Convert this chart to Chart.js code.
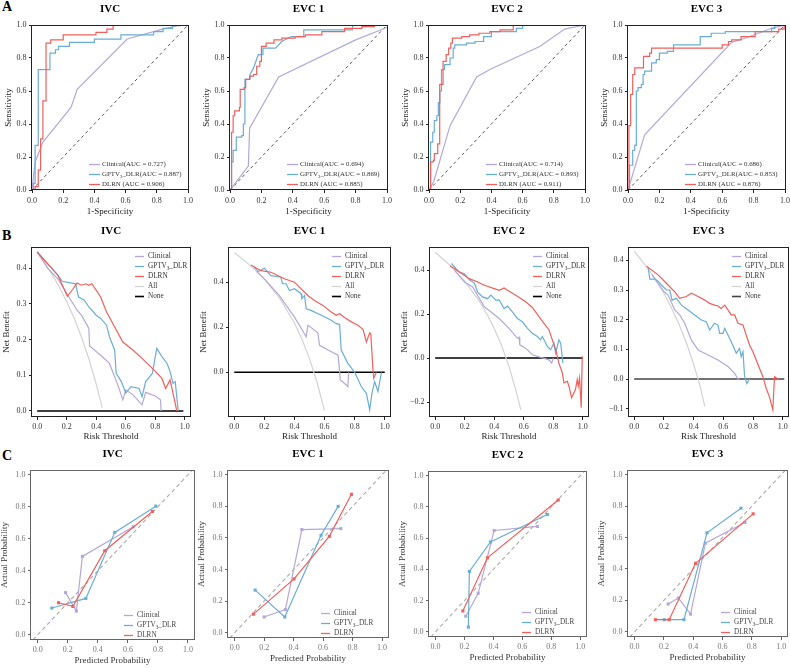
<!DOCTYPE html>
<html>
<head>
<meta charset="utf-8">
<script src="https://cdn.jsdelivr.net/npm/chart.js@4.4.0/dist/chart.umd.min.js"></script>
<style>
  body { margin: 0; background: #fff; }
  #fig { position: relative; width: 790px; height: 668px; overflow: hidden; background: #fff; }
  #fig canvas { position: absolute; }
  .tag { position: absolute; font: bold 14px 'Liberation Serif', serif; line-height: 14px; color: #000; }
</style>
</head>
<body>
<div id="fig">
  <div class="tag" style="left:2px;top:0px">A</div>
  <div class="tag" style="left:2px;top:229px">B</div>
  <div class="tag" style="left:2px;top:449px">C</div>
</div>
<script>
// ---- data ----
const panelTitles = ['IVC', 'EVC 1', 'EVC 2', 'EVC 3'];
const aucClinical = ['0.727', '0.694', '0.714', '0.686'];
const aucGptv = ['0.887', '0.869', '0.893', '0.853'];
const aucDlrn = ['0.906', '0.885', '0.911', '0.876'];

const ticks01 = [0, 0.2, 0.4, 0.6, 0.8, 1];
const dcaYTicks = [[0, 0.1, 0.2, 0.3, 0.4], [0, 0.2, 0.4], [-0.2, 0, 0.2, 0.4], [-0.1, 0, 0.1, 0.2, 0.3, 0.4]];
const dcaYRange = [[-0.017, 0.459], [-0.198, 0.556], [-0.268, 0.505], [-0.128, 0.445]];

// ROC curves [1-specificity, sensitivity]
const rocIVC_clin = [[0,0],[0.02,0.17],[0.07,0.29],[0.25,0.5],[0.29,0.61],[0.61,0.915],[0.82,0.97],[0.93,0.995],[1,1]];
const rocIVC_gptv = [[0,0],[0.01,0],[0.01,0.04],[0.02,0.04],[0.02,0.27],[0.04,0.27],[0.04,0.73],[0.115,0.73],[0.115,0.83],[0.15,0.83],[0.15,0.85],[0.17,0.85],[0.17,0.87],[0.24,0.87],[0.24,0.895],[0.4,0.895],[0.4,0.915],[0.57,0.915],[0.57,0.94],[0.78,0.94],[0.78,0.96],[0.84,0.96],[0.84,0.98],[0.9,0.98],[0.9,1],[1,1]];
const rocIVC_dlrn = [[0,0],[0.02,0],[0.02,0.02],[0.04,0.02],[0.04,0.12],[0.055,0.12],[0.055,0.31],[0.07,0.31],[0.07,0.54],[0.09,0.54],[0.09,0.89],[0.12,0.89],[0.12,0.91],[0.2,0.91],[0.2,0.94],[0.41,0.94],[0.41,0.955],[0.48,0.955],[0.48,0.975],[0.52,0.975],[0.52,1],[1,1]];

const rocE1_clin = [[0,0],[0.117,0.145],[0.125,0.375],[0.31,0.685],[0.8,0.91],[1,0.985]];
const rocE1_gptv = [[0,0],[0.01,0],[0.01,0.17],[0.02,0.17],[0.02,0.24],[0.04,0.24],[0.04,0.32],[0.075,0.32],[0.075,0.33],[0.085,0.33],[0.085,0.4],[0.095,0.4],[0.095,0.67],[0.128,0.67],[0.128,0.7],[0.15,0.74],[0.18,0.82],[0.21,0.82],[0.21,0.86],[0.29,0.86],[0.33,0.9],[0.39,0.93],[0.47,0.93],[0.47,0.97],[0.78,0.97],[0.78,1],[1,1]];
const rocE1_dlrn = [[0,0],[0.01,0],[0.01,0.35],[0.02,0.35],[0.02,0.45],[0.03,0.45],[0.03,0.48],[0.06,0.48],[0.06,0.5],[0.065,0.5],[0.065,0.61],[0.09,0.61],[0.09,0.62],[0.1,0.62],[0.1,0.67],[0.125,0.67],[0.125,0.69],[0.15,0.69],[0.15,0.7],[0.17,0.7],[0.17,0.75],[0.19,0.75],[0.19,0.78],[0.2,0.78],[0.2,0.87],[0.23,0.87],[0.23,0.89],[0.28,0.89],[0.28,0.91],[0.33,0.91],[0.33,0.92],[0.415,0.92],[0.415,0.93],[0.48,0.93],[0.48,0.94],[0.585,0.94],[0.585,0.96],[0.73,0.96],[0.73,0.98],[0.84,0.98],[0.84,0.99],[0.92,0.99],[0.92,1],[1,1]];

const rocE2_clin = [[0,0],[0.03,0.05],[0.135,0.39],[0.305,0.685],[0.39,0.73],[0.71,0.87],[0.87,0.975],[1,1]];
const rocE2_gptv = [[0,0],[0.01,0],[0.01,0.29],[0.024,0.29],[0.024,0.35],[0.034,0.35],[0.034,0.42],[0.05,0.42],[0.05,0.45],[0.06,0.45],[0.06,0.53],[0.07,0.53],[0.07,0.6],[0.08,0.6],[0.08,0.73],[0.1,0.73],[0.1,0.76],[0.135,0.76],[0.135,0.8],[0.155,0.8],[0.155,0.86],[0.165,0.86],[0.165,0.88],[0.24,0.88],[0.24,0.89],[0.295,0.89],[0.295,0.9],[0.35,0.9],[0.35,0.93],[0.4,0.93],[0.4,0.96],[0.56,0.96],[0.56,0.98],[0.6,0.98],[0.6,1],[1,1]];
const rocE2_dlrn = [[0,0],[0.01,0],[0.01,0.17],[0.028,0.17],[0.028,0.18],[0.034,0.18],[0.034,0.22],[0.056,0.22],[0.056,0.28],[0.066,0.28],[0.066,0.33],[0.07,0.33],[0.07,0.64],[0.09,0.64],[0.09,0.78],[0.11,0.78],[0.11,0.82],[0.126,0.82],[0.126,0.86],[0.14,0.86],[0.14,0.89],[0.15,0.89],[0.15,0.92],[0.21,0.92],[0.21,0.93],[0.26,0.93],[0.26,0.94],[0.32,0.94],[0.32,0.95],[0.39,0.95],[0.39,0.96],[0.455,0.96],[0.455,0.97],[0.54,0.97],[0.54,1],[1,1]];

const rocE3_clin = [[0,0],[0.106,0.335],[0.66,0.895],[0.745,0.92],[0.915,0.98],[1,1]];
const rocE3_gptv = [[0,0],[0.01,0],[0.01,0.15],[0.03,0.15],[0.03,0.24],[0.043,0.24],[0.043,0.27],[0.053,0.27],[0.053,0.6],[0.064,0.6],[0.064,0.62],[0.085,0.62],[0.085,0.64],[0.096,0.64],[0.096,0.7],[0.106,0.7],[0.106,0.72],[0.15,0.72],[0.15,0.77],[0.18,0.77],[0.18,0.79],[0.2,0.79],[0.2,0.83],[0.25,0.83],[0.25,0.84],[0.29,0.84],[0.29,0.88],[0.46,0.88],[0.46,0.93],[0.53,0.93],[0.53,0.95],[0.62,0.95],[0.62,0.96],[0.915,0.96],[0.915,0.98],[0.935,0.98],[0.935,1],[1,1]];
const rocE3_dlrn = [[0,0],[0.006,0],[0.006,0.39],[0.017,0.39],[0.017,0.58],[0.03,0.58],[0.03,0.7],[0.043,0.7],[0.043,0.74],[0.096,0.74],[0.096,0.76],[0.1,0.76],[0.1,0.81],[0.138,0.81],[0.138,0.83],[0.15,0.83],[0.15,0.86],[0.6,0.86],[0.6,0.88],[0.64,0.88],[0.64,0.9],[0.66,0.9],[0.66,0.91],[0.72,0.91],[0.72,0.93],[0.81,0.93],[0.81,0.96],[0.96,0.96],[0.96,0.975],[0.995,0.975],[0.995,1],[1,1]];

const rocDiagonal = [[0,0],[1,1]];

// decision curves [risk threshold, net benefit]
const dcaIVC_all = [[0,0.445],[0.05,0.416],[0.1,0.383],[0.15,0.347],[0.2,0.306],[0.25,0.26],[0.3,0.207],[0.35,0.146],[0.4,0.075],[0.44,0.009]];
const dcaIVC_clin = [[0,0.445],[0.07,0.4],[0.14,0.37],[0.205,0.326],[0.27,0.282],[0.3,0.268],[0.35,0.231],[0.355,0.182],[0.43,0.156],[0.49,0.133],[0.55,0.068],[0.58,0.031],[0.6,0.059],[0.65,0.045],[0.71,0.017],[0.735,0.052],[0.8,0.042],[0.835,0.031],[0.84,0]];
const dcaIVC_gptv = [[0,0.445],[0.14,0.38],[0.17,0.363],[0.26,0.356],[0.28,0.319],[0.32,0.31],[0.35,0.291],[0.4,0.268],[0.43,0.259],[0.47,0.24],[0.49,0.207],[0.525,0.17],[0.535,0.105],[0.57,0.082],[0.6,0.05],[0.635,0.068],[0.69,0.063],[0.71,0.04],[0.735,0.082],[0.78,0.105],[0.81,0.175],[0.845,0.152],[0.88,0.133],[0.9,0.11],[0.92,0.077],[0.935,0.082],[0.955,0]];
const dcaIVC_dlrn = [[0,0.445],[0.14,0.38],[0.205,0.321],[0.24,0.34],[0.27,0.358],[0.3,0.352],[0.33,0.356],[0.35,0.352],[0.37,0.356],[0.43,0.319],[0.47,0.277],[0.525,0.235],[0.58,0.193],[0.65,0.17],[0.71,0.147],[0.78,0.119],[0.845,0.091],[0.87,0.063],[0.9,0.087],[0.935,0.021],[0.945,0]];
const dcaIVC_none = [[0,0],[0.99,0]];

const dcaE1_all = [[0,0.532],[0.1,0.478],[0.2,0.414],[0.3,0.33],[0.4,0.219],[0.45,0.147],[0.5,0.06],[0.55,-0.044],[0.6,-0.17]];
const dcaE1_clin = [[0.15,0.448],[0.2,0.415],[0.3,0.34],[0.4,0.245],[0.45,0.19],[0.478,0.157],[0.49,0.209],[0.52,0.194],[0.555,0.175],[0.567,0.12],[0.62,0.1],[0.69,0.076],[0.705,-0.034],[0.745,-0.056],[0.755,-0.063],[0.76,0]];
const dcaE1_gptv = [[0.13,0.468],[0.16,0.447],[0.2,0.462],[0.244,0.429],[0.31,0.422],[0.32,0.393],[0.344,0.393],[0.367,0.363],[0.4,0.371],[0.444,0.349],[0.449,0.326],[0.467,0.341],[0.478,0.282],[0.51,0.275],[0.578,0.253],[0.644,0.231],[0.678,0.216],[0.7,0.213],[0.711,0.099],[0.755,0.04],[0.8,0],[0.844,-0.063],[0.878,-0.093],[0.9,-0.166],[0.915,-0.093],[0.933,-0.041],[0.955,-0.085],[0.978,0]];
const dcaE1_dlrn = [[0.11,0.476],[0.178,0.451],[0.244,0.444],[0.333,0.415],[0.4,0.4],[0.433,0.378],[0.489,0.341],[0.533,0.319],[0.589,0.297],[0.644,0.268],[0.678,0.253],[0.7,0.26],[0.733,0.243],[0.778,0.224],[0.822,0.209],[0.856,0.19],[0.878,0.135],[0.9,0.175],[0.907,0.172],[0.922,0.01],[0.927,-0.026],[0.944,0]];
const dcaE1_none = [[0,0],[1,0]];

const dcaE2_all = [[0,0.481],[0.1,0.422],[0.2,0.35],[0.3,0.258],[0.35,0.2],[0.4,0.134],[0.45,0.057],[0.5,-0.038],[0.55,-0.155],[0.58,-0.236]];
const dcaE2_clin = [[0.13,0.4],[0.2,0.345],[0.254,0.323],[0.333,0.233],[0.434,0.18],[0.5,0.135],[0.557,0.09],[0.568,0.095],[0.573,0.06],[0.613,0.045],[0.658,0.015],[0.77,-0.008],[0.789,-0.023],[0.8,0]];
const dcaE2_gptv = [[0.11,0.43],[0.142,0.406],[0.164,0.391],[0.198,0.383],[0.231,0.356],[0.265,0.341],[0.288,0.3],[0.321,0.278],[0.355,0.27],[0.377,0.286],[0.411,0.263],[0.434,0.263],[0.467,0.225],[0.49,0.236],[0.523,0.21],[0.557,0.18],[0.591,0.165],[0.625,0.135],[0.658,0.113],[0.692,0.098],[0.714,0.083],[0.726,0.098],[0.76,0.053],[0.782,0.038],[0.804,0.068],[0.816,0.023],[0.838,0.083],[0.85,0.068],[0.865,-0.023]];
const dcaE2_dlrn = [[0.1,0.42],[0.164,0.391],[0.231,0.361],[0.288,0.346],[0.333,0.331],[0.4,0.316],[0.434,0.308],[0.467,0.319],[0.49,0.308],[0.546,0.286],[0.613,0.256],[0.658,0.23],[0.703,0.188],[0.737,0.158],[0.771,0.128],[0.793,0.083],[0.816,0.038],[0.838,-0.023],[0.861,-0.068],[0.872,-0.113],[0.894,-0.105],[0.906,-0.128],[0.924,-0.18],[0.95,-0.143],[0.962,-0.098],[0.969,-0.128],[0.978,-0.09],[0.989,-0.226],[0.996,0.008]];
const dcaE2_none = [[0,0],[1,0]];

const dcaE3_all = [[0,0.431],[0.1,0.367],[0.2,0.289],[0.25,0.24],[0.3,0.187],[0.35,0.124],[0.4,0.05],[0.44,-0.017],[0.475,-0.092]];
const dcaE3_clin = [[0.12,0.352],[0.2,0.295],[0.228,0.283],[0.273,0.233],[0.306,0.216],[0.34,0.188],[0.385,0.131],[0.43,0.098],[0.474,0.087],[0.564,0.064],[0.631,0.042],[0.676,0.019],[0.698,0],[0.709,-0.003]];
const dcaE3_gptv = [[0.094,0.375],[0.105,0.337],[0.139,0.337],[0.161,0.33],[0.183,0.317],[0.217,0.3],[0.239,0.3],[0.255,0.266],[0.284,0.272],[0.318,0.249],[0.362,0.233],[0.407,0.216],[0.452,0.199],[0.485,0.193],[0.508,0.165],[0.541,0.188],[0.564,0.182],[0.575,0.154],[0.597,0.154],[0.609,0.171],[0.653,0.126],[0.687,0.087],[0.709,0.103],[0.72,0.075],[0.732,0.092],[0.743,0.008],[0.758,-0.015],[0.776,0]];
const dcaE3_dlrn = [[0.083,0.38],[0.161,0.351],[0.228,0.317],[0.273,0.294],[0.306,0.272],[0.351,0.278],[0.385,0.289],[0.43,0.278],[0.474,0.266],[0.508,0.255],[0.541,0.249],[0.564,0.246],[0.586,0.238],[0.609,0.249],[0.631,0.233],[0.653,0.216],[0.676,0.216],[0.698,0.188],[0.732,0.182],[0.743,0.165],[0.776,0.115],[0.799,0.092],[0.821,0.064],[0.843,0.036],[0.866,0.008],[0.888,-0.031],[0.91,-0.06],[0.933,-0.104],[0.944,0.008],[0.962,0.002],[0.978,-0.003]];
const dcaE3_none = [[0,0],[1.01,0]];

// calibration curves [predicted, actual]
const calIVC_clin = [[0.185,0.263],[0.257,0.148],[0.297,0.49],[0.636,0.675]];
const calIVC_gptv = [[0.094,0.167],[0.32,0.227],[0.513,0.64],[0.786,0.804]];
const calIVC_dlrn = [[0.138,0.2],[0.234,0.177],[0.446,0.525],[0.763,0.771]];

const calE1_clin = [[0.2,0.1],[0.344,0.147],[0.456,0.653],[0.72,0.659]];
const calE1_gptv = [[0.139,0.27],[0.34,0.1],[0.586,0.617],[0.702,0.8]];
const calE1_dlrn = [[0.128,0.118],[0.403,0.341],[0.642,0.61],[0.792,0.876]];

const calE2_clin = [[0.209,0.1],[0.295,0.247],[0.405,0.649],[0.705,0.675]];
const calE2_gptv = [[0.227,0.03],[0.234,0.387],[0.38,0.576],[0.773,0.751]];
const calE2_dlrn = [[0.189,0.134],[0.359,0.474],[0.848,0.844]];

const calE3_clin = [[0.229,0.177],[0.299,0.215],[0.382,0.113],[0.483,0.564],[0.753,0.696]];
const calE3_gptv = [[0.202,0.077],[0.337,0.077],[0.494,0.63],[0.726,0.787]];
const calE3_dlrn = [[0.142,0.077],[0.236,0.077],[0.416,0.436],[0.809,0.751]];

const calDiagonal = [[-0.033,-0.033],[1.03,1.03]];

// ---- layout (plot frames in page pixels: left, top, right, bottom) ----
const rocFrames = [[32,25,188,190],[230,25,387,190],[429,25,585,190],[628,25,785,190]];
const dcaFrames = [[32,247,190,417],[229,247,390,417],[430,247,588,417],[629,247,788,417]];
const calFrames = [[31,470,194,640],[228,470,388,638],[429,471,586,637],[628,470,787,637]];

const C_CLIN = '#b5a8d8';
const C_GPTV = '#6aaed6';
const C_DLRN = '#f0605c';
const C_ALL = '#d3d3d3';
const C_NONE = '#000000';
const SERIF = "'Liberation Serif', 'DejaVu Serif', serif";
const SUB3 = '\u2083';

const fig = document.getElementById('fig');
const toXY = arr => arr.map(p => ({ x: p[0], y: p[1] }));
const fmt = v => (Math.abs(v) < 1e-9 ? '0.0' : v.toFixed(1).replace('-', '\u2212'));

function line(label, arr, color, order, extra) {
  return Object.assign({
    label: label, data: toXY(arr), borderColor: color, backgroundColor: color,
    borderWidth: 1.2, pointRadius: 0, tension: 0, fill: false, order: order
  }, extra || {});
}

// full box around the plot area
const framePlugin = {
  id: 'frame',
  afterDatasetsDraw(chart, args, opts) {
    const a = chart.chartArea, ctx = chart.ctx;
    ctx.save();
    ctx.strokeStyle = opts.color || '#000';
    ctx.lineWidth = 1;
    ctx.strokeRect(Math.round(a.left) - 0.5, Math.round(a.top) + 0.5, Math.round(a.right - a.left) + 1, Math.round(a.bottom - a.top) - 1);
    ctx.restore();
  }
};

// text with the subscript 3 set smaller and lower
function drawLabel(ctx, text, x, y, size) {
  const parts = text.split(SUB3);
  ctx.font = size + 'px ' + SERIF;
  ctx.fillText(parts[0], x, y);
  if (parts.length < 2) return;
  let w = ctx.measureText(parts[0]).width;
  ctx.font = (size * 0.7) + 'px ' + SERIF;
  ctx.fillText('3', x + w, y + size * 0.28);
  w += ctx.measureText('3').width;
  ctx.font = size + 'px ' + SERIF;
  ctx.fillText(parts[1], x + w, y);
}

// legend drawn inside the plot area, like the R figure
const innerLegend = {
  id: 'innerLegend',
  afterDraw(chart, args, o) {
    const a = chart.chartArea, ctx = chart.ctx;
    const items = chart.data.datasets.filter(d => d.label);
    ctx.save();
    ctx.textBaseline = 'middle';
    items.forEach((d, i) => {
      const x = a.left + o.x;
      const y = o.bottom ? a.bottom - o.y - (items.length - 1 - i) * o.row : a.top + o.y + i * o.row;
      ctx.strokeStyle = d.borderColor;
      ctx.lineWidth = d.label === 'None' ? 1.6 : 1.3;
      ctx.beginPath();
      ctx.moveTo(x, Math.round(y) + 0.5);
      ctx.lineTo(x + o.len, Math.round(y) + 0.5);
      ctx.stroke();
      ctx.fillStyle = o.color;
      drawLabel(ctx, d.label, x + o.gap, y + 0.5, o.size);
    });
    ctx.restore();
  }
};

function addPanel(frame, p) {
  const [L, T, R, B] = frame;
  const YW = 32, TH = 25, PR = 8;
  const cv = document.createElement('canvas');
  cv.width = R - L + YW + PR;
  cv.height = B - T + TH + p.xh;
  cv.style.left = (L - YW) + 'px';
  cv.style.top = (T - TH) + 'px';
  fig.appendChild(cv);

  const tickGrid = { drawOnChartArea: false, drawTicks: true, tickLength: 3, color: p.frameColor, lineWidth: 1 };
  new Chart(cv, {
    type: 'line',
    data: { datasets: p.datasets },
    options: {
      responsive: false,
      animation: false,
      events: [],
      layout: { padding: { left: 0, top: 0, right: PR, bottom: 0 } },
      plugins: {
        legend: { display: false },
        tooltip: { enabled: false },
        title: {
          display: true, text: p.title, fullSize: false, color: '#000',
          font: { family: SERIF, size: 11, weight: 'bold', lineHeight: 1 },
          padding: { top: 4, bottom: 10 }
        },
        frame: { color: p.frameColor },
        innerLegend: p.legend
      },
      scales: {
        x: {
          type: 'linear', min: p.x[0], max: p.x[1],
          afterBuildTicks: s => { s.ticks = p.xTicks.map(v => ({ value: v })); },
          afterFit: s => { s.height = p.xh; },
          grid: tickGrid,
          border: { display: false },
          ticks: { font: { family: SERIF, size: 8 }, color: p.tickColor, padding: p.xPad, maxRotation: 0, autoSkip: false, callback: v => fmt(v) },
          title: { display: true, text: p.xTitle, color: p.titleColor, font: { family: SERIF, size: 9, lineHeight: 1 }, padding: { top: 0, bottom: 0 } }
        },
        y: {
          type: 'linear', min: p.y[0], max: p.y[1],
          afterBuildTicks: s => { s.ticks = p.yTicks.map(v => ({ value: v })); },
          afterFit: s => { s.width = YW; },
          grid: tickGrid,
          border: { display: false },
          ticks: { font: { family: SERIF, size: 8 }, color: p.tickColor, padding: 2.5, autoSkip: false, callback: v => fmt(v) },
          title: { display: true, text: p.yTitle, color: p.titleColor, font: { family: SERIF, size: 9, lineHeight: 1 }, padding: { top: p.yPad, bottom: 0 } }
        }
      }
    },
    plugins: [framePlugin, innerLegend]
  });
}

// ---- row A: ROC ----
const rocSets = [
  [rocIVC_clin, rocIVC_gptv, rocIVC_dlrn],
  [rocE1_clin, rocE1_gptv, rocE1_dlrn],
  [rocE2_clin, rocE2_gptv, rocE2_dlrn],
  [rocE3_clin, rocE3_gptv, rocE3_dlrn]
];
rocSets.forEach((s, i) => {
  addPanel(rocFrames[i], {
    title: panelTitles[i], xTitle: '1-Specificity', yTitle: 'Sensitivity',
    x: [0, 1], y: [0, 1], xTicks: ticks01, yTicks: ticks01, xh: 26, xPad: 3, yPad: 4,
    frameColor: '#222', tickColor: '#333', titleColor: '#222',
    legend: { x: 57, y: 6, bottom: true, row: 10, len: 11, gap: 13, size: 6.9, color: '#333' },
    datasets: [
      line('Clinical(AUC = ' + aucClinical[i] + ')', s[0], C_CLIN, 3),
      line('GPTV' + SUB3 + '_DLR(AUC = ' + aucGptv[i] + ')', s[1], C_GPTV, 2),
      line('DLRN (AUC = ' + aucDlrn[i] + ')', s[2], C_DLRN, 1),
      line(null, rocDiagonal, '#555', 4, { borderDash: [3, 3], borderWidth: 1 })
    ]
  });
});

// ---- row B: decision curves ----
const dcaSets = [
  [dcaIVC_clin, dcaIVC_gptv, dcaIVC_dlrn, dcaIVC_all, dcaIVC_none],
  [dcaE1_clin, dcaE1_gptv, dcaE1_dlrn, dcaE1_all, dcaE1_none],
  [dcaE2_clin, dcaE2_gptv, dcaE2_dlrn, dcaE2_all, dcaE2_none],
  [dcaE3_clin, dcaE3_gptv, dcaE3_dlrn, dcaE3_all, dcaE3_none]
];
dcaSets.forEach((s, i) => {
  addPanel(dcaFrames[i], {
    title: panelTitles[i], xTitle: 'Risk Threshold', yTitle: 'Net Benefit',
    x: [-0.035, 1.035], y: dcaYRange[i], xTicks: ticks01, yTicks: dcaYTicks[i], xh: 24, xPad: 2, yPad: 2.5,
    frameColor: '#222', tickColor: '#333', titleColor: '#222',
    legend: { x: 103, y: 9, bottom: false, row: 10, len: 9, gap: 13, size: 7.2, color: '#333' },
    datasets: [
      line('Clinical', s[0], C_CLIN, 3),
      line('GPTV' + SUB3 + '_DLR', s[1], C_GPTV, 2),
      line('DLRN', s[2], C_DLRN, 1),
      line('All', s[3], C_ALL, 4),
      line('None', s[4], i === 3 ? '#444' : C_NONE, 5, { borderWidth: 1.5 })
    ]
  });
});

// ---- row C: calibration ----
const calSets = [
  [calIVC_clin, calIVC_gptv, calIVC_dlrn],
  [calE1_clin, calE1_gptv, calE1_dlrn],
  [calE2_clin, calE2_gptv, calE2_dlrn],
  [calE3_clin, calE3_gptv, calE3_dlrn]
];
const pts = { pointRadius: 2.2, pointStyle: 'rect', pointBorderWidth: 0 };
calSets.forEach((s, i) => {
  addPanel(calFrames[i], {
    title: panelTitles[i], xTitle: 'Predicted Probability', yTitle: 'Actual Probability',
    x: [-0.045, 1.04], y: [-0.033, 1.03], xTicks: ticks01, yTicks: ticks01, xh: 25, xPad: 2, yPad: 1.5,
    frameColor: '#666', tickColor: '#777', titleColor: '#333',
    legend: { x: 93, y: 5, bottom: true, row: 10, len: 9, gap: 13, size: 7.2, color: '#444' },
    datasets: [
      line('Clinical', s[0], C_CLIN, 3, pts),
      line('GPTV' + SUB3 + '_DLR', s[1], C_GPTV, 2, pts),
      line('DLRN', s[2], C_DLRN, 1, pts),
      line(null, calDiagonal, '#aaaaaa', 4, { borderDash: [4, 3], borderWidth: 1.1 })
    ]
  });
});
</script>
</body>
</html>
